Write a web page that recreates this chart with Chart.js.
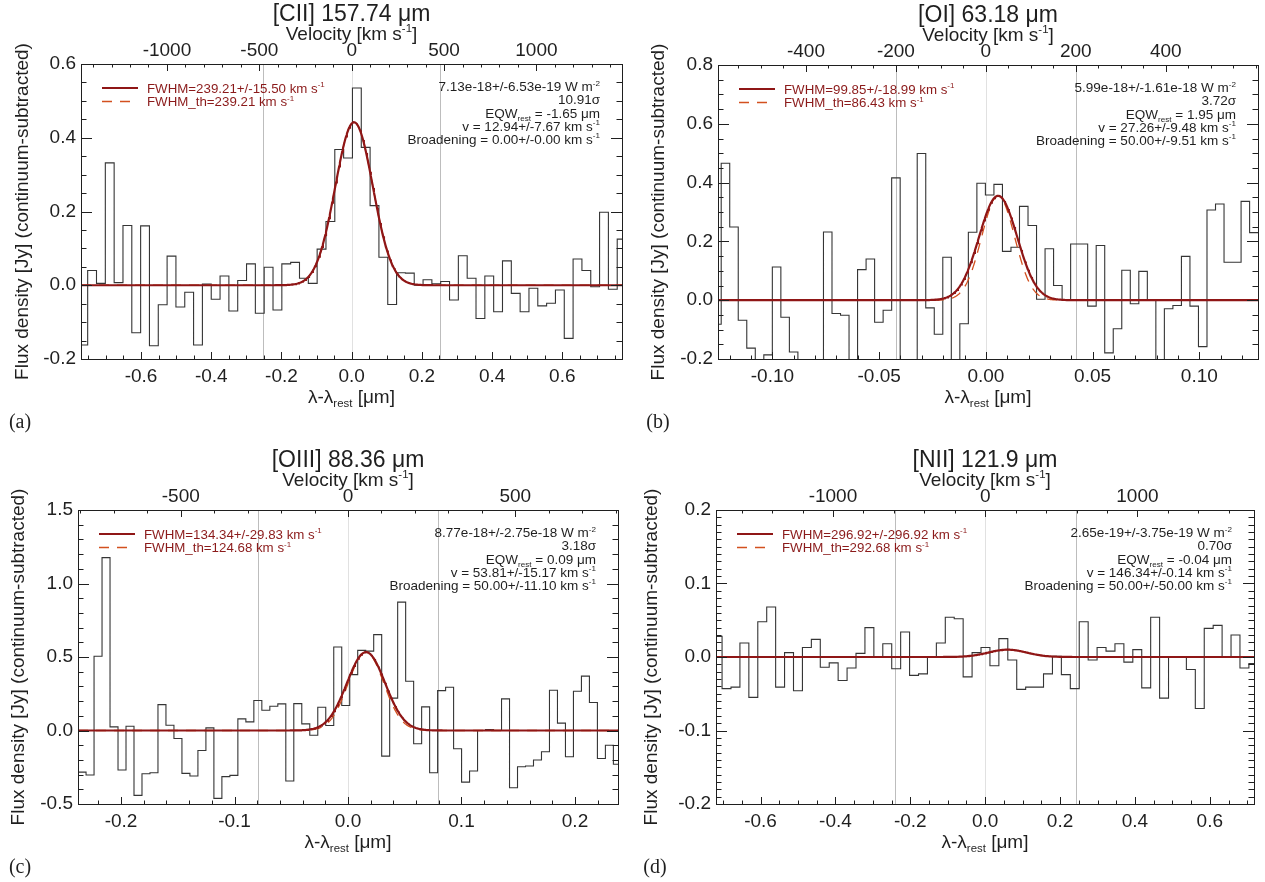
<!DOCTYPE html>
<html>
<head>
<meta charset="utf-8">
<title>Far-infrared fine-structure lines</title>
<script src="https://cdn.jsdelivr.net/npm/chart.js@4.4.1/dist/chart.umd.min.js"></script>
<style>
  html, body { margin: 0; padding: 0; background: #ffffff; }
  #page { position: relative; width: 1265px; height: 882px; overflow: hidden; background: #ffffff; }
  #page canvas { position: absolute; }
</style>
</head>
<body>
<div id="page">
  <canvas id="panelA" width="632" height="441" style="left:0px;top:0px;width:632px;height:441px"></canvas>
  <canvas id="panelB" width="633" height="441" style="left:632px;top:0px;width:633px;height:441px"></canvas>
  <canvas id="panelC" width="632" height="441" style="left:0px;top:441px;width:632px;height:441px"></canvas>
  <canvas id="panelD" width="633" height="441" style="left:632px;top:441px;width:633px;height:441px"></canvas>
</div>
<script>
const C_KMS = 299792.458;

// ---- line properties (one entry per panel: [CII], [OI], [OIII], [NII]) ----
const LINE_LABELS = ['[CII] 157.74 μm', '[OI] 63.18 μm', '[OIII] 88.36 μm', '[NII] 121.9 μm'];
const REST_UM = [157.74, 63.18, 88.36, 121.9];
const FWHM_KMS = [239.21, 99.85, 134.34, 296.92];
const FWHM_ERR_KMS = [15.50, 18.99, 29.83, 296.92];
const FWHM_TH_KMS = [239.21, 86.43, 124.68, 292.68];
const VEL_KMS = [12.94, 27.26, 53.81, 146.34];
const VEL_ERR_KMS = [7.67, 9.48, 15.17, 0.14];
const PEAK_JY = [0.442, 0.355, 0.533, 0.010];
const LINE_FLUX = ['7.13e-18+/-6.53e-19', '5.99e-18+/-1.61e-18', '8.77e-18+/-2.75e-18', '2.65e-19+/-3.75e-19'];
const SIGNIFICANCE = ['10.91', '3.72', '3.18', '0.70'];
const EQW_UM = ['-1.65', '1.95', '0.09', '-0.04'];
const BROADENING = ['0.00+/-0.00', '50.00+/-9.51', '50.00+/-11.10', '50.00+/-50.00'];

// ---- continuum-subtracted spectra: first full bin edge, bin width [um], flux per bin [Jy]
// (the first value belongs to the partial bin just left of the first edge)
const CII_EDGE0 = -0.752, CII_BIN = 0.02514;
const CII_FLUX = [-0.162, 0.040, 0.005, 0.332, 0.007, 0.162, -0.129, 0.161, -0.164, -0.053,
  0.079, -0.059, -0.019, -0.162, 0.003, -0.038, 0.025, -0.070, 0.013, 0.058,
  -0.076, 0.049, -0.067, 0.058, 0.062, 0.019, 0.005, 0.098, 0.173, 0.368,
  0.345, 0.535, 0.374, 0.216, 0.076, -0.052, 0.034, 0.033, 0.000, 0.015,
  0.004, 0.010, -0.040, 0.080, 0.019, -0.090, 0.025, -0.072, 0.066, -0.022,
  -0.072, -0.008, -0.056, -0.049, -0.013, -0.144, 0.071, 0.040, -0.004, 0.198,
  -0.011, 0.125];

const OI_EDGE0 = -0.1240, OI_BIN = 0.003993;
const OI_FLUX = [-0.082, 0.466, 0.249, -0.068, -0.163, -0.23, -0.186, 0.113, -0.058, -0.176,
  -0.24, -0.26, -0.22, 0.232, -0.045, -0.051, -0.25, 0.104, 0.140, -0.075,
  -0.034, 0.416, -0.27, -0.23, 0.499, -0.026, -0.116, 0.146, -0.24, -0.080,
  0.231, 0.398, 0.358, 0.394, 0.166, 0.180, 0.319, 0.254, 0.003, 0.175,
  0.050, 0.000, 0.191, 0.191, -0.020, 0.186, -0.179, -0.097, 0.102, -0.012,
  0.098, 0.000, -0.25, -0.029, -0.018, 0.149, -0.020, -0.158, 0.307, 0.327,
  0.129, 0.129, 0.336, 0.230];

const OIII_EDGE0 = -0.2308, OIII_BIN = 0.00704;
const OIII_FLUX = [-0.283, -0.303, 0.505, 1.176, 0.025, -0.269, 0.029, -0.441, -0.294, -0.287,
  0.176, 0.036, -0.054, -0.292, -0.310, -0.136, 0.018, -0.462, -0.314, -0.305,
  0.079, 0.059, 0.204, 0.138, 0.165, 0.181, -0.344, 0.183, 0.045, -0.032,
  0.158, 0.034, 0.568, 0.170, 0.380, 0.545, 0.540, 0.652, -0.174, 0.220,
  0.873, 0.335, -0.090, 0.161, -0.287, 0.271, 0.294, -0.124, -0.351, -0.276,
  0.000, 0.007, 0.000, 0.215, -0.389, -0.247, -0.242, -0.201, -0.145, 0.274,
  0.050, -0.179, 0.267, 0.370, 0.190, -0.190, -0.100, -0.230];

const NII_EDGE0 = -0.7028, NII_BIN = 0.02385;
const NII_FLUX = [0.028, -0.043, -0.041, 0.019, -0.055, 0.048, 0.068, -0.041, 0.006, -0.046,
  0.013, 0.024, -0.014, -0.008, -0.032, -0.015, 0.005, 0.040, 0.000, 0.018,
  -0.016, 0.034, -0.025, -0.023, 0.000, 0.019, 0.054, 0.052, -0.027, 0.006,
  0.013, -0.012, 0.025, -0.004, -0.044, -0.041, -0.041, -0.023, 0.001, -0.024,
  -0.043, 0.048, -0.004, 0.013, 0.008, 0.018, -0.007, 0.010, -0.042, 0.054,
  -0.056, 0.000, 0.000, -0.017, -0.070, 0.039, 0.043, 0.000, 0.030, -0.015,
  -0.009];

const SPEC_EDGE0 = [CII_EDGE0, OI_EDGE0, OIII_EDGE0, NII_EDGE0];
const SPEC_BIN = [CII_BIN, OI_BIN, OIII_BIN, NII_BIN];
const SPEC_FLUX = [CII_FLUX, OI_FLUX, OIII_FLUX, NII_FLUX];

// ---- axes ----
const LAM_RANGE = [[-0.771, 0.770], [-0.1255, 0.1275], [-0.2379, 0.2379], [-0.719, 0.718]];
const FLUX_RANGE = [[-0.2, 0.6], [-0.2, 0.8], [-0.5, 1.5], [-0.2, 0.2]];
const LAM_TICKS = [[-0.6, -0.4, -0.2, 0, 0.2, 0.4, 0.6], [-0.10, -0.05, 0, 0.05, 0.10],
  [-0.2, -0.1, 0, 0.1, 0.2], [-0.6, -0.4, -0.2, 0, 0.2, 0.4, 0.6]];
const LAM_MINOR = [0.05, 0.01, 0.02, 0.05];
const LAM_DECIMALS = [1, 2, 1, 1];
const FLUX_TICKS = [[-0.2, 0, 0.2, 0.4, 0.6], [-0.2, 0, 0.2, 0.4, 0.6, 0.8],
  [-0.5, 0, 0.5, 1.0, 1.5], [-0.2, -0.1, 0, 0.1, 0.2]];
const FLUX_MINOR = [0.05, 0.05, 0.1, 0.01];
const VEL_TICKS = [[-1000, -500, 0, 500, 1000], [-400, -200, 0, 200, 400], [-500, 0, 500], [-1000, 0, 1000]];
const VEL_MINOR = [100, 50, 100, 200];

// ---- page layout (page pixels) ----
const PANELS = [
  { id: 'panelA', x: 0,   y: 0,   w: 632, h: 441, plot: [81, 622, 64, 359],   letter: '(a)', letterAt: [20, 427.5], yTitleGap: 58.5 },
  { id: 'panelB', x: 632, y: 0,   w: 633, h: 441, plot: [718, 1258, 65, 359], letter: '(b)', letterAt: [658, 427.5], yTitleGap: 58.6 },
  { id: 'panelC', x: 0,   y: 441, w: 632, h: 441, plot: [78, 618, 510, 804],  letter: '(c)', letterAt: [20, 872.5], yTitleGap: 58.6 },
  { id: 'panelD', x: 632, y: 441, w: 633, h: 441, plot: [716, 1254, 510, 804], letter: '(d)', letterAt: [655, 872.5], yTitleGap: 64 }
];

const SANS = "'Liberation Sans', Arial, Helvetica, sans-serif";
const SERIF = "'Liberation Serif', 'DejaVu Serif', 'Times New Roman', serif";
const INK = '#1f1f1f';
const HIST = '#353535';
const FIT_RED = '#8f1616';
const FIT_DASH = '#d3501f';
const LEGEND_RED = '#8b1a1a';
const MARKER_GREY = '#bdbdbd';
const YW = 55, TOP_H = 30, BOT_H = 30;

function histogramPoints(i) {
  const e0 = SPEC_EDGE0[i], w = SPEC_BIN[i];
  const pts = [];
  SPEC_FLUX[i].forEach((f, k) => {
    const lo = e0 + (k - 1) * w;
    pts.push({ x: lo, y: f }, { x: lo + w, y: f });
  });
  return pts;
}

function gaussianPoints(i, fwhmKms) {
  const lam = REST_UM[i];
  const centre = VEL_KMS[i] / C_KMS * lam;
  const sigma = fwhmKms / C_KMS * lam / (2 * Math.sqrt(2 * Math.LN2));
  const [a, b] = LAM_RANGE[i];
  const n = 700, pts = [];
  for (let k = 0; k <= n; k++) {
    const x = a + (b - a) * k / n;
    pts.push({ x, y: PEAK_JY[i] * Math.exp(-0.5 * Math.pow((x - centre) / sigma, 2)) });
  }
  return pts;
}

function parseRich(s) {
  const out = [], re = /\^\{([^}]*)\}|_\{([^}]*)\}/g;
  let last = 0, m;
  while ((m = re.exec(s))) {
    if (m.index > last) out.push({ t: s.slice(last, m.index), k: 0 });
    if (m[1] !== undefined) out.push({ t: m[1], k: 1 }); else out.push({ t: m[2], k: -1 });
    last = re.lastIndex;
  }
  if (last < s.length) out.push({ t: s.slice(last), k: 0 });
  return out;
}

function drawRich(ctx, s, x, y, size, align, family, color) {
  const segs = parseRich(s);
  const fontOf = k => (k === 0 ? size : size * 0.6).toFixed(2) + 'px ' + family;
  let total = 0;
  segs.forEach(sg => { ctx.font = fontOf(sg.k); sg.w = ctx.measureText(sg.t).width; total += sg.w; });
  let cx = align === 'right' ? x - total : align === 'center' ? x - total / 2 : x;
  ctx.fillStyle = color;
  ctx.textAlign = 'left';
  ctx.textBaseline = 'alphabetic';
  segs.forEach(sg => {
    ctx.font = fontOf(sg.k);
    const dy = sg.k === 1 ? -size * 0.42 : sg.k === -1 ? size * 0.24 : 0;
    ctx.fillText(sg.t, cx, y + dy);
    cx += sg.w;
  });
}

function eachStep(min, max, step, fn) {
  const k0 = Math.ceil(min / step - 1e-6), k1 = Math.floor(max / step + 1e-6);
  for (let k = k0; k <= k1; k++) fn(k * step);
}
function inList(v, list) { return list.some(m => Math.abs(m - v) < 1e-6 * Math.max(1, Math.abs(m))); }

const panelDecor = {
  id: 'panelDecor',
  beforeDatasetsDraw(chart, args, opts) {
    const i = opts.index, ctx = chart.ctx, a = chart.chartArea, xs = chart.scales.x;
    const lam = REST_UM[i];
    ctx.save();
    ctx.lineWidth = 1;
    // velocity reference lines: systemic and +/- 2 FWHM
    const marks = [
      { v: 0, c: '#e1e1e1' },
      { v: -2 * FWHM_KMS[i], c: MARKER_GREY },
      { v: 2 * FWHM_KMS[i], c: MARKER_GREY }
    ];
    marks.forEach(mk => {
      const px = Math.round(xs.getPixelForValue(mk.v / C_KMS * lam)) + 0.5;
      ctx.strokeStyle = mk.c;
      ctx.beginPath(); ctx.moveTo(px, a.top); ctx.lineTo(px, a.bottom); ctx.stroke();
    });
    ctx.restore();
  },
  afterDraw(chart, args, opts) {
    const i = opts.index, ctx = chart.ctx, p = PANELS[i];
    const xs = chart.scales.x, ys = chart.scales.y, vs = chart.scales.v;
    const L = Math.round(chart.chartArea.left), R = Math.round(chart.chartArea.right);
    const T = Math.round(chart.chartArea.top), B = Math.round(chart.chartArea.bottom);
    const midX = (L + R) / 2, midY = (T + B) / 2;
    ctx.save();

    // frame and inward tick marks on all four sides
    ctx.strokeStyle = INK; ctx.lineWidth = 1;
    ctx.beginPath();
    eachStep(FLUX_RANGE[i][0], FLUX_RANGE[i][1], FLUX_MINOR[i], v => {
      const y = Math.round(ys.getPixelForValue(v)) + 0.5;
      const len = inList(v, FLUX_TICKS[i]) ? 11 : 5.5;
      ctx.moveTo(L, y); ctx.lineTo(L + len, y);
      ctx.moveTo(R, y); ctx.lineTo(R - len, y);
    });
    eachStep(LAM_RANGE[i][0], LAM_RANGE[i][1], LAM_MINOR[i], v => {
      const x = Math.round(xs.getPixelForValue(v)) + 0.5;
      const len = inList(v, LAM_TICKS[i]) ? 7 : 3.5;
      ctx.moveTo(x, B); ctx.lineTo(x, B - len);
    });
    eachStep(vs.min, vs.max, VEL_MINOR[i], v => {
      const x = Math.round(vs.getPixelForValue(v)) + 0.5;
      const len = inList(v, VEL_TICKS[i]) ? 7 : 3.5;
      ctx.moveTo(x, T); ctx.lineTo(x, T + len);
    });
    ctx.stroke();
    ctx.strokeRect(L + 0.5, T + 0.5, R - L, B - T);

    // titles
    drawRich(ctx, LINE_LABELS[i], midX, T - 43.5, 23, 'center', SANS, INK);
    drawRich(ctx, 'Velocity [km s^{-1}]', midX, T - 24.5, 19, 'center', SANS, INK);
    drawRich(ctx, 'λ-λ_{rest} [μm]', midX, B + 43.7, 19, 'center', SANS, INK);

    ctx.save();
    ctx.translate(L - p.yTitleGap + 5, midY);
    ctx.rotate(-Math.PI / 2);
    drawRich(ctx, 'Flux density [Jy] (continuum-subtracted)', 0, 0, 19, 'center', SANS, INK);
    ctx.restore();

    // legend
    ctx.lineWidth = 2.2; ctx.strokeStyle = FIT_RED;
    ctx.beginPath(); ctx.moveTo(L + 21, T + 24); ctx.lineTo(L + 57, T + 24); ctx.stroke();
    ctx.lineWidth = 1.3; ctx.strokeStyle = FIT_DASH; ctx.setLineDash([10, 8]);
    ctx.beginPath(); ctx.moveTo(L + 21, T + 37.5); ctx.lineTo(L + 57, T + 37.5); ctx.stroke();
    ctx.setLineDash([]);
    drawRich(ctx, 'FWHM=' + FWHM_KMS[i].toFixed(2) + '+/-' + FWHM_ERR_KMS[i].toFixed(2) + ' km s^{-1}',
      L + 66, T + 29, 13.3, 'left', SANS, LEGEND_RED);
    drawRich(ctx, 'FWHM_th=' + FWHM_TH_KMS[i].toFixed(2) + ' km s^{-1}',
      L + 66, T + 42.3, 13.3, 'left', SANS, LEGEND_RED);

    // fit summary
    const notes = [
      LINE_FLUX[i] + ' W m^{-2}',
      SIGNIFICANCE[i] + 'σ',
      'EQW_{rest} = ' + EQW_UM[i] + ' μm',
      'v = ' + VEL_KMS[i].toFixed(2) + '+/-' + VEL_ERR_KMS[i].toFixed(2) + ' km s^{-1}',
      'Broadening = ' + BROADENING[i] + ' km s^{-1}'
    ];
    notes.forEach((s, k) => drawRich(ctx, s, R - 22, T + 27.3 + k * 13.1, 13.5, 'right', SANS, INK));

    // panel letter
    drawRich(ctx, p.letter, p.letterAt[0] - p.x, p.letterAt[1] - p.y, 20, 'center', SERIF, INK);
    ctx.restore();
  }
};

function fmt(v, d) {
  return Math.abs(v) < 1e-9 ? (0).toFixed(d) : v.toFixed(d);
}

function buildPanel(i) {
  const p = PANELS[i];
  const [L, R, T, B] = p.plot;
  const lam = REST_UM[i];
  const tickFont = { family: SANS, size: 19 };
  return new Chart(document.getElementById(p.id), {
    type: 'line',
    data: {
      datasets: [
        { data: gaussianPoints(i, FWHM_KMS[i]), borderColor: FIT_RED, borderWidth: 2.2,
          pointRadius: 0, fill: false, tension: 0 },
        { data: gaussianPoints(i, FWHM_TH_KMS[i]), borderColor: FIT_DASH, borderWidth: 1.3, borderDash: [10, 8],
          pointRadius: 0, fill: false, tension: 0 },
        { data: histogramPoints(i), borderColor: HIST, borderWidth: 1.1, borderJoinStyle: 'miter',
          pointRadius: 0, fill: false, tension: 0 }
      ]
    },
    options: {
      responsive: false,
      animation: false,
      devicePixelRatio: 1,
      parsing: false,
      events: [],
      layout: {
        padding: {
          left: (L - p.x) - YW,
          right: (p.x + p.w) - R,
          top: (T - p.y) - TOP_H,
          bottom: (p.y + p.h) - B - BOT_H
        }
      },
      plugins: { legend: { display: false }, tooltip: { enabled: false }, panelDecor: { index: i } },
      scales: {
        x: {
          type: 'linear', position: 'bottom',
          min: LAM_RANGE[i][0], max: LAM_RANGE[i][1],
          grid: { display: false, drawTicks: false }, border: { display: false },
          afterBuildTicks: s => { s.ticks = LAM_TICKS[i].map(v => ({ value: v })); },
          afterFit: s => { s.height = BOT_H; },
          ticks: { font: tickFont, color: INK, padding: 6, autoSkip: false, maxRotation: 0, minRotation: 0,
            callback: v => fmt(v, LAM_DECIMALS[i]) }
        },
        v: {
          type: 'linear', position: 'top', axis: 'x',
          min: LAM_RANGE[i][0] / lam * C_KMS, max: LAM_RANGE[i][1] / lam * C_KMS,
          grid: { display: false, drawTicks: false }, border: { display: false },
          afterBuildTicks: s => { s.ticks = VEL_TICKS[i].map(v => ({ value: v })); },
          afterFit: s => { s.height = TOP_H; },
          ticks: { font: tickFont, color: INK, padding: 2, autoSkip: false, maxRotation: 0, minRotation: 0,
            callback: v => String(Math.round(v)) }
        },
        y: {
          type: 'linear', position: 'left',
          min: FLUX_RANGE[i][0], max: FLUX_RANGE[i][1],
          grid: { display: false, drawTicks: false }, border: { display: false },
          afterBuildTicks: s => { s.ticks = FLUX_TICKS[i].map(v => ({ value: v })); },
          afterFit: s => { s.width = YW; },
          ticks: { font: tickFont, color: INK, padding: 5, autoSkip: false,
            callback: v => fmt(v, 1) }
        }
      }
    },
    plugins: [panelDecor]
  });
}

[0, 1, 2, 3].forEach(buildPanel);
</script>
</body>
</html>
